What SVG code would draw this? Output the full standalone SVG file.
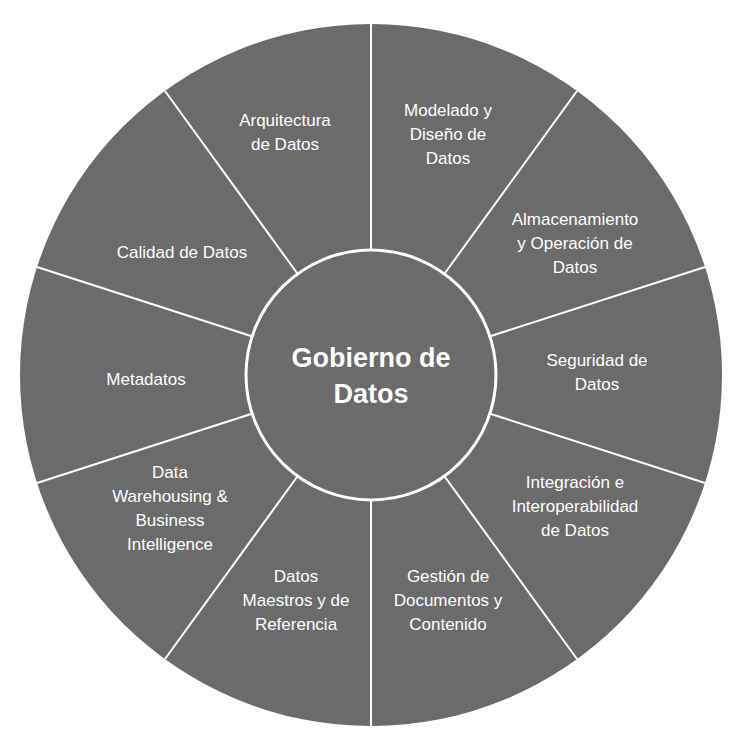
<svg xmlns="http://www.w3.org/2000/svg" width="744" height="744" viewBox="0 0 744 744">
<style>
.t{font-family:"Liberation Sans",Arial,sans-serif;font-size:17px;fill:#fff;text-anchor:middle}
.c{font-family:"Liberation Sans",Arial,sans-serif;font-size:27px;font-weight:bold;fill:#fff;text-anchor:middle}
.s{stroke:#fff;stroke-width:2}
</style>
<rect width="744" height="744" fill="#fff"/>
<circle cx="371" cy="375" r="351" fill="#6b6b6b"/>
<g id="connectors" class="s">
<line x1="371" y1="249" x2="371" y2="24"/>
<line x1="445" y1="273" x2="577" y2="91"/>
<line x1="491" y1="336" x2="705" y2="267"/>
<line x1="491" y1="414" x2="705" y2="483"/>
<line x1="445" y1="477" x2="577" y2="659"/>
<line x1="371" y1="501" x2="371" y2="726"/>
<line x1="297" y1="477" x2="165" y2="659"/>
<line x1="251" y1="414" x2="37" y2="483"/>
<line x1="251" y1="336" x2="37" y2="267"/>
<line x1="297" y1="273" x2="165" y2="91"/>
</g>
<g id="center"><circle cx="371" cy="375" r="125" fill="#6b6b6b" stroke="#fff" stroke-width="3"/>
<text class="c" x="371" y="367">Gobierno de</text><text class="c" x="371" y="403">Datos</text></g>
<g id="n1"><text class="t" x="285" y="126">Arquitectura</text><text class="t" x="285" y="150">de Datos</text></g>
<g id="n2"><text class="t" x="448" y="116">Modelado y</text><text class="t" x="448" y="140">Diseño de</text><text class="t" x="448" y="164">Datos</text></g>
<g id="n3"><text class="t" x="575" y="225">Almacenamiento</text><text class="t" x="575" y="249">y  Operación de</text><text class="t" x="575" y="273">Datos</text></g>
<g id="n4"><text class="t" x="597" y="366">Seguridad de</text><text class="t" x="597" y="390">Datos</text></g>
<g id="n5"><text class="t" x="575" y="488">Integración e</text><text class="t" x="575" y="512">Interoperabilidad</text><text class="t" x="575" y="536">de Datos</text></g>
<g id="n6"><text class="t" x="448" y="582">Gestión de</text><text class="t" x="448" y="606">Documentos y</text><text class="t" x="448" y="630">Contenido</text></g>
<g id="n7"><text class="t" x="296" y="582">Datos</text><text class="t" x="296" y="606">Maestros y de</text><text class="t" x="296" y="630">Referencia</text></g>
<g id="n8"><text class="t" x="170" y="478">Data</text><text class="t" x="170" y="502">Warehousing &amp;</text><text class="t" x="170" y="526">Business</text><text class="t" x="170" y="550">Intelligence</text></g>
<g id="n9"><text class="t" x="146" y="385">Metadatos</text></g>
<g id="n10"><text class="t" x="182" y="258">Calidad de Datos</text></g>
</svg>
